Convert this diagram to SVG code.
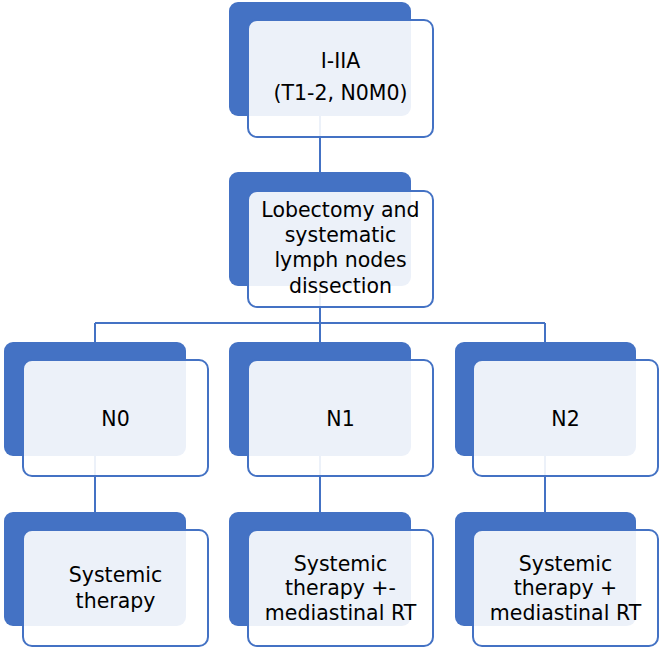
<svg xmlns="http://www.w3.org/2000/svg" width="662" height="651" viewBox="0 0 662 651">
<style>
.back{fill:#4472C4;}
.front{fill:#ffffff;fill-opacity:0.9;stroke:#4472C4;stroke-width:2;}
.conn{stroke:#4472C4;stroke-width:2;fill:none;}
text{font-family:"DejaVu Sans","Liberation Sans",sans-serif;font-size:20.5px;fill:#000;text-anchor:middle;}
</style>
<rect width="662" height="651" fill="#ffffff"/>
<g id="connectors">
<line class="conn" x1="320" y1="60" x2="320" y2="323"/>
<line class="conn" x1="95" y1="323" x2="545" y2="323"/>
<line class="conn" x1="95" y1="323" x2="95" y2="560"/>
<line class="conn" x1="320" y1="323" x2="320" y2="560"/>
<line class="conn" x1="545" y1="323" x2="545" y2="560"/>
</g>
<g id="n_stage">
<rect class="back" x="229" y="2" width="182" height="114" rx="9"/>
<rect class="front" x="248" y="20" width="185" height="117" rx="9"/>
<text x="340.5" y="68">I-IIA</text>
<text x="340.5" y="100">(T1-2, N0M0)</text>
</g>
<g id="n_lobectomy">
<rect class="back" x="229" y="172" width="182" height="114" rx="9"/>
<rect class="front" x="248" y="191" width="185" height="116" rx="9"/>
<text x="340.5" y="217">Lobectomy and</text>
<text x="340.5" y="242">systematic</text>
<text x="340.5" y="267">lymph nodes</text>
<text x="340.5" y="293">dissection</text>
</g>
<g id="n_N0">
<rect class="back" x="4" y="342" width="182" height="114" rx="9"/>
<rect class="front" x="23" y="360" width="185" height="116" rx="9"/>
<text x="115.5" y="426">N0</text>
</g>
<g id="n_N1">
<rect class="back" x="229" y="342" width="182" height="114" rx="9"/>
<rect class="front" x="248" y="360" width="185" height="116" rx="9"/>
<text x="340.5" y="426">N1</text>
</g>
<g id="n_N2">
<rect class="back" x="455" y="342" width="181" height="114" rx="9"/>
<rect class="front" x="473" y="360" width="185" height="116" rx="9"/>
<text x="565.5" y="426">N2</text>
</g>
<g id="n_t0">
<rect class="back" x="4" y="512" width="182" height="114" rx="9"/>
<rect class="front" x="23" y="530" width="185" height="116" rx="9"/>
<text x="115.5" y="582">Systemic</text>
<text x="115.5" y="608">therapy</text>
</g>
<g id="n_t1">
<rect class="back" x="229" y="512" width="182" height="114" rx="9"/>
<rect class="front" x="248" y="530" width="185" height="116" rx="9"/>
<text x="340.5" y="571">Systemic</text>
<text x="340.5" y="595">therapy +-</text>
<text x="340.5" y="620">mediastinal RT</text>
</g>
<g id="n_t2">
<rect class="back" x="455" y="512" width="181" height="114" rx="9"/>
<rect class="front" x="473" y="530" width="185" height="116" rx="9"/>
<text x="565.5" y="571">Systemic</text>
<text x="565.5" y="595">therapy +</text>
<text x="565.5" y="620">mediastinal RT</text>
</g>
</svg>
